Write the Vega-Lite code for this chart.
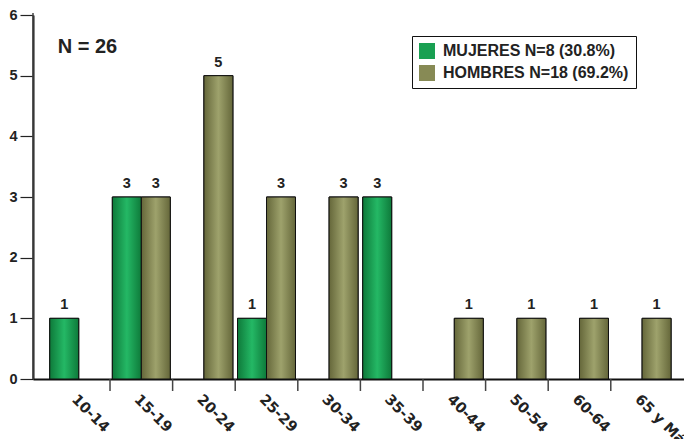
{
  "$schema": "https://vega.github.io/schema/vega-lite/v6.json",
  "width": 651,
  "height": 364,
  "autosize": {"type": "none"},
  "padding": {"left": 33, "top": 15, "right": 0, "bottom": 60},
  "background": "white",
  "config": {
    "view": {"stroke": null},
    "font": "Liberation Sans",
    "axis": {"grid": false}
  },
  "datasets": {
    "bars": [
      {"grupo": "10-14", "sexo": "MUJERES N=8 (30.8%)", "casos": 1},
      {"grupo": "15-19", "sexo": "MUJERES N=8 (30.8%)", "casos": 3},
      {"grupo": "15-19", "sexo": "HOMBRES N=18 (69.2%)", "casos": 3},
      {"grupo": "20-24", "sexo": "HOMBRES N=18 (69.2%)", "casos": 5},
      {"grupo": "25-29", "sexo": "MUJERES N=8 (30.8%)", "casos": 1},
      {"grupo": "25-29", "sexo": "HOMBRES N=18 (69.2%)", "casos": 3},
      {"grupo": "30-34", "sexo": "HOMBRES N=18 (69.2%)", "casos": 3},
      {"grupo": "35-39", "sexo": "MUJERES N=8 (30.8%)", "casos": 3},
      {"grupo": "40-44", "sexo": "HOMBRES N=18 (69.2%)", "casos": 1},
      {"grupo": "50-54", "sexo": "HOMBRES N=18 (69.2%)", "casos": 1},
      {"grupo": "60-64", "sexo": "HOMBRES N=18 (69.2%)", "casos": 1},
      {"grupo": "65 y Más", "sexo": "HOMBRES N=18 (69.2%)", "casos": 1}
    ],
    "cortes": [
      {"grupo": "10-14"}, {"grupo": "15-19"}, {"grupo": "20-24"}, {"grupo": "25-29"},
      {"grupo": "30-34"}, {"grupo": "35-39"}, {"grupo": "40-44"}, {"grupo": "50-54"},
      {"grupo": "60-64"}
    ],
    "nota": [{"texto": "N = 26", "grupo": "10-14", "y": 5.37}]
  },
  "encoding": {
    "x": {
      "field": "grupo",
      "type": "nominal",
      "scale": {
        "domain": ["10-14", "15-19", "20-24", "25-29", "30-34", "35-39", "40-44", "50-54", "60-64", "65 y Más"],
        "paddingInner": 0,
        "paddingOuter": 0.2,
        "align": 0.576
      },
      "axis": {
        "title": null,
        "labelAngle": 45,
        "labelAlign": "left",
        "labelBaseline": "top",
        "labelFont": "DejaVu Sans",
        "labelFontSize": 14.5,
        "labelFontWeight": "bold",
        "labelColor": "#222222",
        "labelPadding": 13,
        "ticks": false,
        "domainColor": "#111111",
        "domainWidth": 2
      }
    }
  },
  "layer": [
    {
      "data": {"name": "bars"},
      "mark": {"type": "bar", "stroke": "#111111", "strokeWidth": 1},
      "encoding": {
        "xOffset": {
          "field": "sexo",
          "scale": {"domain": ["MUJERES N=8 (30.8%)", "HOMBRES N=18 (69.2%)"], "paddingInner": 0, "paddingOuter": 0.08}
        },
        "y": {
          "field": "casos",
          "type": "quantitative",
          "scale": {"domain": [0, 6], "nice": false},
          "axis": {
            "title": null,
            "values": [0, 1, 2, 3, 4, 5, 6],
            "format": "d",
            "labelFontSize": 14.5,
            "labelFontWeight": "bold",
            "labelColor": "#222222",
            "labelPadding": 3,
            "tickSize": 13,
            "tickColor": "#222222",
            "tickWidth": 1.2,
            "domainColor": "#111111",
            "domainWidth": 2
          }
        },
        "color": {
          "field": "sexo",
          "type": "nominal",
          "scale": {
            "domain": ["MUJERES N=8 (30.8%)", "HOMBRES N=18 (69.2%)"],
            "range": ["#19a052", "#878a55"]
          },
          "legend": {
            "title": null,
            "orient": "none",
            "legendX": 379,
            "legendY": 21,
            "padding": 7,
            "strokeColor": "#111111",
            "fillColor": "white",
            "symbolType": "square",
            "symbolSize": 256,
            "symbolStrokeWidth": 0,
            "symbolOpacity": 1,
            "labelFontSize": 16,
            "labelFontWeight": "bold",
            "labelColor": "#222222",
            "labelOffset": 8,
            "rowPadding": 6,
            "labelLimit": 400,
            "encoding": {
              "symbols": {
                "update": {
                  "fill": [
                    {"test": "datum.value === 'MUJERES N=8 (30.8%)'",
                     "value": {"gradient": "linear", "x1": 0, "y1": 0, "x2": 1, "y2": 0,
                       "stops": [{"offset": 0, "color": "#0e7a3a"}, {"offset": 0.5, "color": "#24b865"}, {"offset": 1, "color": "#0e7a3a"}]}},
                    {"value": {"gradient": "linear", "x1": 0, "y1": 0, "x2": 1, "y2": 0,
                       "stops": [{"offset": 0, "color": "#65673a"}, {"offset": 0.5, "color": "#9ea26c"}, {"offset": 1, "color": "#65673a"}]}}
                  ]
                }
              }
            }
          }
        }
      }
    },
    {
      "data": {"name": "bars"},
      "transform": [{"filter": "datum.sexo === 'MUJERES N=8 (30.8%)'"}],
      "mark": {"type": "bar", "stroke": "#111111", "strokeWidth": 1,
        "fill": {"gradient": "linear", "x1": 0, "y1": 0, "x2": 1, "y2": 0,
          "stops": [{"offset": 0, "color": "#0e7a3a"}, {"offset": 0.5, "color": "#24b865"}, {"offset": 1, "color": "#0e7a3a"}]}},
      "encoding": {
        "xOffset": {"field": "sexo", "scale": {"domain": ["MUJERES N=8 (30.8%)", "HOMBRES N=18 (69.2%)"], "paddingInner": 0, "paddingOuter": 0.08}},
        "y": {"field": "casos", "type": "quantitative"}
      }
    },
    {
      "data": {"name": "bars"},
      "transform": [{"filter": "datum.sexo === 'HOMBRES N=18 (69.2%)'"}],
      "mark": {"type": "bar", "stroke": "#111111", "strokeWidth": 1,
        "fill": {"gradient": "linear", "x1": 0, "y1": 0, "x2": 1, "y2": 0,
          "stops": [{"offset": 0, "color": "#65673a"}, {"offset": 0.5, "color": "#9ea26c"}, {"offset": 1, "color": "#65673a"}]}},
      "encoding": {
        "xOffset": {"field": "sexo", "scale": {"domain": ["MUJERES N=8 (30.8%)", "HOMBRES N=18 (69.2%)"], "paddingInner": 0, "paddingOuter": 0.08}},
        "y": {"field": "casos", "type": "quantitative"}
      }
    },
    {
      "data": {"name": "bars"},
      "mark": {"type": "text", "baseline": "alphabetic", "dy": -9, "fontSize": 14.5, "fontWeight": "bold", "color": "#222222"},
      "encoding": {
        "xOffset": {"field": "sexo", "scale": {"domain": ["MUJERES N=8 (30.8%)", "HOMBRES N=18 (69.2%)"], "paddingInner": 0, "paddingOuter": 0.08}},
        "y": {"field": "casos", "type": "quantitative"},
        "text": {"field": "casos", "type": "quantitative"}
      }
    },
    {
      "data": {"name": "cortes"},
      "mark": {"type": "rule", "color": "#444444", "strokeWidth": 1.5, "y2Offset": 12},
      "encoding": {
        "x": {"field": "grupo", "type": "nominal", "bandPosition": 1},
        "y": {"datum": 0},
        "y2": {"datum": 0}
      }
    },
    {
      "data": {"values": [{}]},
      "mark": {"type": "rule", "color": "#444444", "strokeWidth": 1.5, "yOffset": -2},
      "encoding": {"y": {"datum": 6}}
    },
    {
      "data": {"name": "nota"},
      "mark": {"type": "text", "align": "left", "baseline": "alphabetic", "dx": -21, "fontSize": 20, "fontWeight": "bold", "color": "#222222"},
      "encoding": {
        "x": {"field": "grupo", "type": "nominal"},
        "y": {"field": "y", "type": "quantitative"},
        "text": {"field": "texto"}
      }
    }
  ]
}
